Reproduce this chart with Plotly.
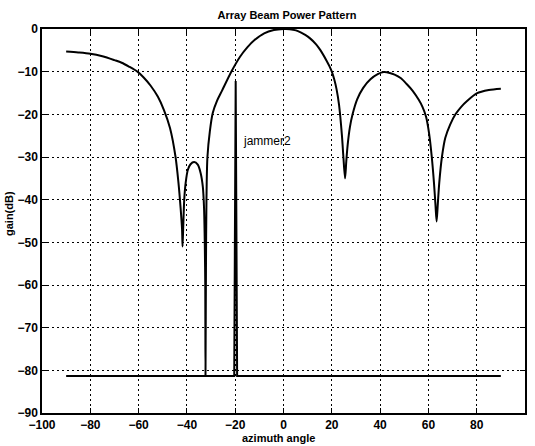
import plotly.graph_objects as go

# Beam pattern (azimuth deg, gain dB)
pattern_angle = [-90, -85, -80, -75, -70, -67, -64, -60.5, -58, -55, -52, -49.5, -47, -44.7,
                 -43.5, -42.6, -42.0, -41.8, -41.5, -41.1, -40.5, -39.6, -38.5, -37.0, -35.5,
                 -34.3, -33.4, -32.9, -32.6, -32.4, -32.3, -32.1, -31.9, -31.5, -30.5, -29.3,
                 -27.5, -25.5, -21.4, -18, -15, -12, -8, -4, 0, 1, 4, 6, 9, 11, 13.5, 15.2,
                 18, 19, 20, 21, 22, 23, 24.2, 24.8, 25.5, 26, 26.6, 27.5, 28.6, 30.5,
                 33, 36, 39, 41.5, 44, 46, 48.5, 51, 53.5, 56, 57.5, 59, 60.3, 61.4, 62.3,
                 62.9, 63.4, 63.9, 64.5, 65.6, 67, 69, 71.2, 73.5, 76, 80, 85, 90]
pattern_gain = [-5.3, -5.5, -5.8, -6.4, -7.3, -7.9, -8.8, -10.0, -11.3, -13.3, -15.9, -19, -23.2, -30,
                -36, -42, -47, -51, -46, -40, -36, -33, -31.7, -31.2, -31.8,
                -33.8, -37, -42, -50, -60, -81.2, -55, -40, -30, -24, -19.7,
                -16.8, -14.5, -9.8, -6.5, -4.3, -2.6, -1.0, -0.25, 0.0, 0.0, -0.2, -0.5, -1.4, -2.2, -3.6, -4.9,
                -7.6, -8.7, -10, -11.8, -14.2, -17.8, -25, -30, -35, -31, -27, -23, -20, -16.5,
                -13.8, -11.8, -10.6, -10.1, -10.3, -10.7, -11.5, -12.9, -14.5, -16.6, -18.2, -20.5, -24.5, -30, -36,
                -41, -45.1, -41, -36, -30, -25.5, -22.4, -20, -18.3, -16.9, -15.1, -14.3, -14.0]

# Jammer trace (floor with spike at jammer2)
jammer_angle = [-90, -20.4, -19.8, -19.2, 90]
jammer_gain = [-81.3, -81.3, -12.2, -81.3, -81.3]

x_ticks = [-100, -80, -60, -40, -20, 0, 20, 40, 60, 80, 100]
y_ticks = [-90, -80, -70, -60, -50, -40, -30, -20, -10, 0]

FONT = "Liberation Sans, Arial, sans-serif"

fig = go.Figure()
fig.add_trace(go.Scatter(x=jammer_angle, y=jammer_gain, mode="lines",
                         line=dict(color="black", width=2), showlegend=False))
fig.add_trace(go.Scatter(x=pattern_angle, y=pattern_gain, mode="lines",
                         line=dict(color="black", width=2, shape="spline", smoothing=0.8),
                         showlegend=False))

axis_common = dict(
    showline=True, linecolor="black", linewidth=1.5, mirror="ticks",
    ticks="inside", ticklen=5, tickcolor="black", tickwidth=1,
    showgrid=True, gridcolor="black", gridwidth=1, griddash="2px,3px",
    zeroline=False, automargin=False,
    tickfont=dict(family=FONT, size=12, color="black", weight="bold"),
)

fig.update_xaxes(range=[-100, 100], tickvals=x_ticks, **axis_common)
fig.update_yaxes(range=[-90, 0], tickvals=y_ticks, **axis_common)

fig.update_layout(
    width=535, height=446,
    margin=dict(l=42, r=10, t=29, b=33),
    paper_bgcolor="white", plot_bgcolor="white",
    title=dict(text="Array Beam Power Pattern", x=287 / 535, xanchor="center",
               y=1 - 15 / 446, yanchor="middle", yref="container",
               font=dict(family=FONT, size=11, color="black", weight="bold")),
    annotations=[
        dict(text="azimuth angle", xref="paper", yref="paper", x=0.49, y=0,
             yanchor="middle", yshift=-25, showarrow=False,
             font=dict(family=FONT, size=11, color="black", weight="bold")),
        dict(text="gain(dB)", xref="paper", yref="paper", x=0, y=0.5, xanchor="center",
             yanchor="middle", xshift=-33, yshift=7, textangle=-90, showarrow=False,
             font=dict(family=FONT, size=11, color="black", weight="bold")),
        dict(text="jammer2", xref="x", yref="y", x=-17.6, y=-26.2, xanchor="left",
             yanchor="middle", showarrow=False,
             font=dict(family=FONT, size=12, color="black")),
    ],
)

fig.write_html("out.html")
